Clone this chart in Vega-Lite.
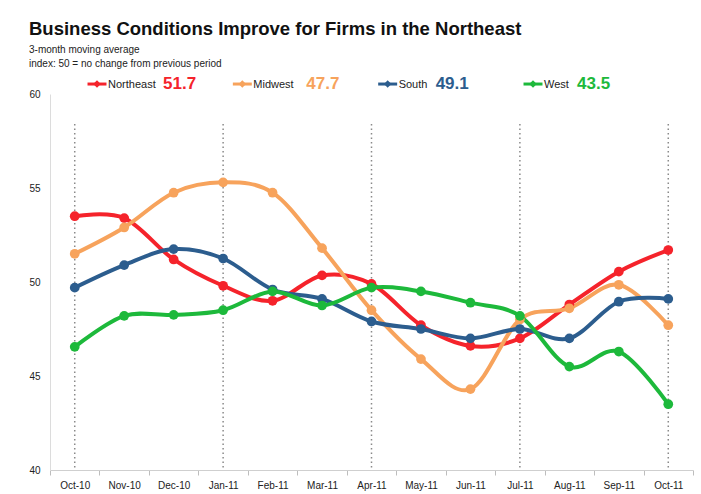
{
  "$schema": "https://vega.github.io/schema/vega-lite/v6.json",
  "width": 643,
  "height": 376,
  "autosize": {"type": "none"},
  "padding": {"left": 50, "top": 94, "right": 8, "bottom": 24},
  "background": "white",
  "config": {
    "font": "Liberation Sans",
    "view": {"stroke": null}
  },
  "title": {
    "text": "Business Conditions Improve for Firms in the Northeast",
    "subtitle": ["3-month moving average", "index: 50 = no change from previous period"],
    "anchor": "start",
    "frame": "group",
    "dx": -21,
    "offset": 6,
    "font": "Liberation Sans",
    "fontSize": 18.5,
    "fontWeight": "bold",
    "color": "#111111",
    "subtitleFont": "Liberation Sans",
    "subtitleFontSize": 10,
    "subtitleColor": "#222222",
    "subtitlePadding": 7,
    "subtitleLineHeight": 14
  },
  "datasets": {
    "series": [
      {"month": "Oct-10", "region": "Northeast", "value": 53.5},
      {"month": "Nov-10", "region": "Northeast", "value": 53.4},
      {"month": "Dec-10", "region": "Northeast", "value": 51.2},
      {"month": "Jan-11", "region": "Northeast", "value": 49.8},
      {"month": "Feb-11", "region": "Northeast", "value": 49.0},
      {"month": "Mar-11", "region": "Northeast", "value": 50.35},
      {"month": "Apr-11", "region": "Northeast", "value": 49.9},
      {"month": "May-11", "region": "Northeast", "value": 47.7},
      {"month": "Jun-11", "region": "Northeast", "value": 46.6},
      {"month": "Jul-11", "region": "Northeast", "value": 47.0},
      {"month": "Aug-11", "region": "Northeast", "value": 48.8},
      {"month": "Sep-11", "region": "Northeast", "value": 50.55},
      {"month": "Oct-11", "region": "Northeast", "value": 51.7},
      {"month": "Oct-10", "region": "Midwest", "value": 51.5},
      {"month": "Nov-10", "region": "Midwest", "value": 52.9},
      {"month": "Dec-10", "region": "Midwest", "value": 54.75},
      {"month": "Jan-11", "region": "Midwest", "value": 55.3},
      {"month": "Feb-11", "region": "Midwest", "value": 54.75},
      {"month": "Mar-11", "region": "Midwest", "value": 51.8},
      {"month": "Apr-11", "region": "Midwest", "value": 48.5},
      {"month": "May-11", "region": "Midwest", "value": 45.9},
      {"month": "Jun-11", "region": "Midwest", "value": 44.3},
      {"month": "Jul-11", "region": "Midwest", "value": 48.0},
      {"month": "Aug-11", "region": "Midwest", "value": 48.6},
      {"month": "Sep-11", "region": "Midwest", "value": 49.85},
      {"month": "Oct-11", "region": "Midwest", "value": 47.7},
      {"month": "Oct-10", "region": "South", "value": 49.7},
      {"month": "Nov-10", "region": "South", "value": 50.9},
      {"month": "Dec-10", "region": "South", "value": 51.75},
      {"month": "Jan-11", "region": "South", "value": 51.25},
      {"month": "Feb-11", "region": "South", "value": 49.6},
      {"month": "Mar-11", "region": "South", "value": 49.1},
      {"month": "Apr-11", "region": "South", "value": 47.9},
      {"month": "May-11", "region": "South", "value": 47.5},
      {"month": "Jun-11", "region": "South", "value": 47.0},
      {"month": "Jul-11", "region": "South", "value": 47.5},
      {"month": "Aug-11", "region": "South", "value": 47.0},
      {"month": "Sep-11", "region": "South", "value": 48.95},
      {"month": "Oct-11", "region": "South", "value": 49.1},
      {"month": "Oct-10", "region": "West", "value": 46.55},
      {"month": "Nov-10", "region": "West", "value": 48.2},
      {"month": "Dec-10", "region": "West", "value": 48.25},
      {"month": "Jan-11", "region": "West", "value": 48.5},
      {"month": "Feb-11", "region": "West", "value": 49.5},
      {"month": "Mar-11", "region": "West", "value": 48.75},
      {"month": "Apr-11", "region": "West", "value": 49.7},
      {"month": "May-11", "region": "West", "value": 49.5},
      {"month": "Jun-11", "region": "West", "value": 48.9},
      {"month": "Jul-11", "region": "West", "value": 48.2},
      {"month": "Aug-11", "region": "West", "value": 45.5},
      {"month": "Sep-11", "region": "West", "value": 46.3},
      {"month": "Oct-11", "region": "West", "value": 43.5}
    ],
    "quarters": [
      {"month": "Oct-10"}, {"month": "Jan-11"}, {"month": "Apr-11"}, {"month": "Jul-11"}, {"month": "Oct-11"}
    ],
    "legend": [
      {"region": "Northeast", "latest": "51.7"},
      {"region": "Midwest", "latest": "47.7"},
      {"region": "South", "latest": "49.1"},
      {"region": "West", "latest": "43.5"}
    ]
  },
  "layer": [
    {
      "layer": [
        {
          "data": {"name": "quarters"},
          "mark": {"type": "rule", "color": "#8a8a8a", "strokeWidth": 1.5, "strokeDash": [1.5, 3]},
          "encoding": {
            "y": {"datum": 58.4, "type": "quantitative"},
            "y2": {"datum": 40}
          }
        },
        {
          "data": {"name": "series"},
          "mark": {"type": "line", "interpolate": "cardinal", "strokeWidth": 4},
          "encoding": {
            "y": {"field": "value", "type": "quantitative"},
            "color": {"field": "region", "type": "nominal", "legend": null}
          }
        },
        {
          "data": {"name": "series"},
          "mark": {"type": "point", "filled": true, "opacity": 1, "size": 95},
          "encoding": {
            "y": {"field": "value", "type": "quantitative"},
            "color": {"field": "region", "type": "nominal", "legend": null}
          }
        }
      ],
      "encoding": {
        "x": {
          "field": "month",
          "type": "ordinal",
          "sort": ["Oct-10", "Nov-10", "Dec-10", "Jan-11", "Feb-11", "Mar-11", "Apr-11", "May-11", "Jun-11", "Jul-11", "Aug-11", "Sep-11", "Oct-11"],
          "scale": {"type": "band", "paddingInner": 0, "paddingOuter": 0, "domain": ["Oct-10", "Nov-10", "Dec-10", "Jan-11", "Feb-11", "Mar-11", "Apr-11", "May-11", "Jun-11", "Jul-11", "Aug-11", "Sep-11", "Oct-11"]},
          "axis": {
            "title": null,
            "tickBand": "extent",
            "labelAngle": 0,
            "labelFont": "Liberation Sans",
            "labelFontSize": 10,
            "labelColor": "#222222",
            "labelPadding": 5,
            "tickColor": "#bdbdbd",
            "tickSize": 5,
            "domainColor": "#cfcfcf",
            "grid": false
          }
        },
        "y": {
          "type": "quantitative",
          "scale": {"domain": [40, 60], "nice": false, "zero": false},
          "axis": {
            "title": null,
            "values": [40, 45, 50, 55, 60],
            "ticks": false,
            "labelPadding": 10,
            "labelFont": "Liberation Sans",
            "labelFontSize": 10,
            "labelColor": "#222222",
            "domainColor": "#dcdcdc",
            "gridColor": {"condition": {"test": "datum.value === 50", "value": "#7f7f7f"}, "value": "#e6e6e6"},
            "gridWidth": {"condition": {"test": "datum.value === 50", "value": 2}, "value": 1}
          }
        },
        "color": {
          "type": "nominal",
          "scale": {"domain": ["Northeast", "Midwest", "South", "West"], "range": ["#f5232b", "#f7a35c", "#2c5d8e", "#1db93b"]}
        }
      }
    },
    {
      "data": {"name": "legend"},
      "encoding": {
        "x": {"field": "region", "type": "nominal", "sort": ["Northeast", "Midwest", "South", "West"], "scale": {"type": "point", "padding": 0, "range": [47, 483]}, "axis": null},
        "y": {"datum": 60.53, "type": "quantitative", "scale": {"domain": [40, 60], "nice": false, "zero": false}},
        "color": {"field": "region", "type": "nominal", "scale": {"domain": ["Northeast", "Midwest", "South", "West"], "range": ["#f5232b", "#f7a35c", "#2c5d8e", "#1db93b"]}, "legend": null}
      },
      "layer": [
        {"mark": {"type": "point", "shape": "stroke", "size": 360, "strokeWidth": 3, "opacity": 1}},
        {"mark": {"type": "point", "shape": "diamond", "filled": true, "size": 55, "opacity": 1}},
        {"mark": {"type": "text", "align": "left", "baseline": "middle", "dx": 11, "dy": 1, "fontSize": 11, "color": "#222222"}, "encoding": {"text": {"field": "region"}, "color": {"value": "#222222"}}},
        {"mark": {"type": "text", "align": "left", "baseline": "middle", "dx": {"expr": "datum.region === 'Northeast' ? 66 : datum.region === 'Midwest' ? 64 : datum.region === 'South' ? 48 : 44"}, "fontSize": 17, "fontWeight": "bold"}, "encoding": {"text": {"field": "latest"}}}
      ]
    }
  ],
  "resolve": {"scale": {"x": "independent"}}
}
